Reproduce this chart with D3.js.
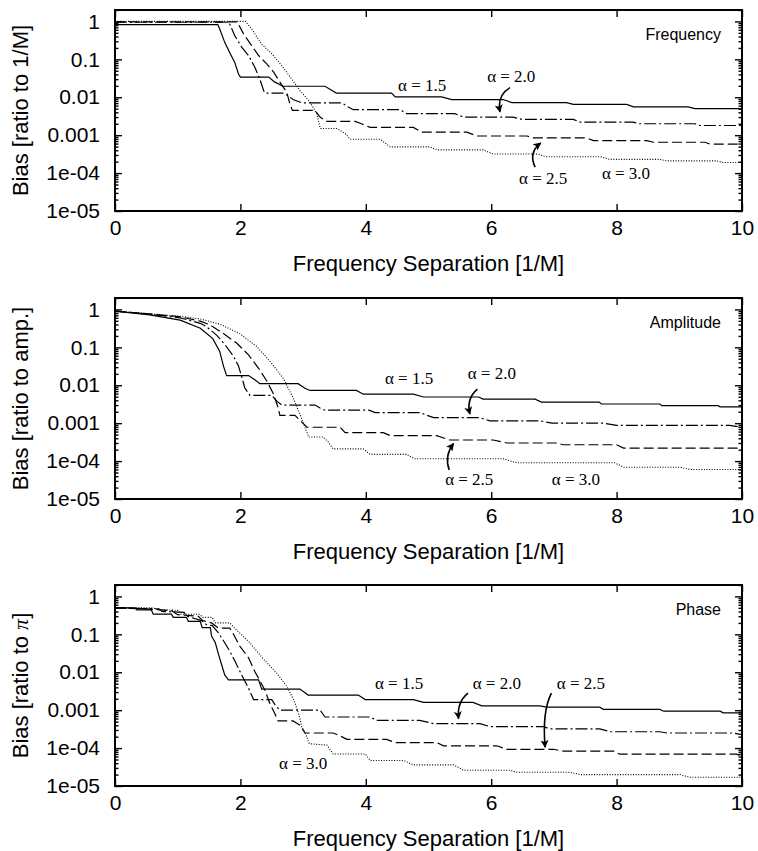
<!DOCTYPE html>
<html>
<head>
<meta charset="utf-8">
<script src="https://cdn.jsdelivr.net/npm/d3@7/dist/d3.min.js"></script>
<style>
  body { margin: 0; background: #fff; }
  svg { display: block; }
</style>
</head>
<body>
<script>

// ---- data: [frequency separation, bias] ----

let freq15 = [[0,0.82],[1.64,0.82],[1.67,0.63],[1.75,0.28],[1.83,0.15],[1.91,0.083],[1.97,0.041],[2.0,0.034],[2.45,0.034],[2.55,0.025],[2.68,0.0195],[3.35,0.0195],[3.46,0.0151],[3.53,0.0129],[4.41,0.0129],[4.47,0.0102],[5.21,0.0102],[5.37,0.0087],[6.19,0.0087],[6.33,0.0072],[7.2,0.0072],[7.31,0.0065],[8.16,0.0065],[8.27,0.0056],[9.14,0.0056],[9.25,0.005],[10,0.005]];
let freq20 = [[0,0.95],[1.8,0.95],[1.83,0.85],[1.91,0.42],[2.02,0.21],[2.13,0.126],[2.23,0.062],[2.31,0.03],[2.37,0.0151],[2.39,0.0129],[2.68,0.0129],[2.76,0.011],[2.84,0.0087],[2.98,0.0071],[3.62,0.0071],[3.72,0.0055],[3.8,0.0047],[4.55,0.0047],[4.65,0.0037],[5.42,0.0037],[5.56,0.003],[6.35,0.003],[6.49,0.0026],[7.31,0.0026],[7.42,0.0022],[8.26,0.0022],[8.37,0.002],[9.25,0.002],[9.33,0.0018],[10,0.0018]];
let freq25 = [[0,0.97],[1.95,0.97],[2.05,0.47],[2.18,0.23],[2.29,0.126],[2.42,0.076],[2.53,0.046],[2.63,0.025],[2.74,0.0135],[2.79,0.0066],[2.83,0.0045],[3.19,0.0045],[3.27,0.003],[3.38,0.0023],[3.83,0.0023],[3.93,0.002],[4.07,0.0016],[4.76,0.0016],[4.89,0.0012],[5.61,0.0012],[5.77,0.00095],[6.57,0.00095],[6.67,0.00085],[7.52,0.00085],[7.63,0.00072],[8.48,0.00072],[8.59,0.00065],[9.41,0.00065],[9.49,0.00058],[10,0.00058]];
let freq30 = [[0,1.0],[2.08,1.0],[2.18,0.63],[2.34,0.25],[2.5,0.14],[2.66,0.068],[2.82,0.03],[2.95,0.0151],[3.11,0.0074],[3.22,0.0036],[3.27,0.0016],[3.28,0.0015],[3.54,0.0015],[3.67,0.0011],[3.75,0.00078],[4.23,0.00078],[4.39,0.00049],[5.02,0.00049],[5.13,0.00041],[5.87,0.00041],[6.03,0.00032],[6.72,0.00032],[6.88,0.00027],[7.74,0.00027],[7.89,0.00023],[8.69,0.00023],[8.8,0.00021],[9.6,0.00021],[9.7,0.00019],[10,0.00019]];

let amp15 = [[0,0.9],[0.55,0.72],[1.04,0.52],[1.36,0.32],[1.56,0.17],[1.67,0.078],[1.73,0.032],[1.78,0.018],[2.13,0.018],[2.23,0.014],[2.31,0.011],[2.92,0.011],[3.03,0.0083],[3.11,0.0073],[3.85,0.0073],[3.96,0.0058],[4.76,0.0058],[4.92,0.0049],[5.8,0.0049],[5.87,0.0043],[6.7,0.0043],[6.8,0.0036],[7.72,0.0036],[7.76,0.0032],[8.69,0.0032],[8.72,0.0029],[9.62,0.0029],[9.65,0.0027],[10,0.0027]];
let amp20 = [[0,0.9],[0.55,0.75],[1.04,0.6],[1.36,0.43],[1.46,0.35],[1.62,0.21],[1.75,0.12],[1.89,0.058],[1.97,0.032],[2.02,0.017],[2.07,0.0085],[2.15,0.0054],[2.5,0.0054],[2.58,0.0038],[2.66,0.003],[3.19,0.003],[3.27,0.0025],[3.35,0.0022],[4.05,0.0022],[4.15,0.0019],[4.86,0.0019],[5.08,0.0014],[5.82,0.0014],[5.98,0.00115],[6.78,0.00115],[6.97,0.001],[7.79,0.001],[8.0,0.00087],[9.8,0.00087],[10,0.00078]];
let amp25 = [[0,0.9],[0.55,0.76],[1.04,0.64],[1.36,0.49],[1.52,0.39],[1.73,0.23],[1.94,0.13],[2.13,0.063],[2.29,0.028],[2.42,0.013],[2.53,0.0058],[2.6,0.0026],[2.63,0.0016],[2.87,0.0016],[2.95,0.0012],[3.06,0.00078],[3.59,0.00078],[3.67,0.00056],[4.28,0.00056],[4.39,0.00047],[5.13,0.00047],[5.34,0.00036],[6.03,0.00036],[6.25,0.0003],[7.04,0.0003],[7.15,0.00027],[8.0,0.00027],[8.11,0.00022],[9.92,0.00022],[10,0.00019]];
let amp30 = [[0,0.9],[0.55,0.77],[1.04,0.66],[1.36,0.56],[1.67,0.41],[1.99,0.23],[2.26,0.105],[2.47,0.043],[2.68,0.0155],[2.84,0.0047],[2.95,0.0017],[3.03,0.00078],[3.09,0.00043],[3.32,0.00043],[3.4,0.00032],[3.48,0.00021],[3.96,0.00021],[4.07,0.00015],[4.65,0.00015],[4.78,0.000115],[6.19,0.000115],[6.41,0.00009],[7.97,0.00009],[8.11,0.000069],[9.01,0.000069],[9.17,0.00006],[10,0.00006]];

let phase15 = [[0,0.5],[0.32,0.5],[0.35,0.44],[0.58,0.44],[0.61,0.34],[0.9,0.34],[0.93,0.28],[1.14,0.28],[1.17,0.22],[1.36,0.22],[1.39,0.15],[1.52,0.15],[1.54,0.09],[1.6,0.06],[1.65,0.03],[1.7,0.016],[1.75,0.0085],[1.81,0.0063],[2.29,0.0063],[2.34,0.0036],[2.95,0.0036],[3.08,0.0025],[3.88,0.0025],[3.99,0.0019],[4.76,0.0019],[4.92,0.0016],[5.71,0.0016],[5.85,0.0013],[6.78,0.0013],[6.88,0.0012],[7.73,0.0012],[7.79,0.00105],[8.69,0.00105],[8.75,0.00094],[9.65,0.00094],[9.7,0.00085],[10,0.00085]];
let phase20 = [[0,0.5],[0.7,0.47],[0.75,0.4],[1.1,0.38],[1.15,0.3],[1.38,0.23],[1.46,0.18],[1.55,0.17],[1.65,0.11],[1.75,0.06],[1.83,0.036],[1.91,0.02],[2.02,0.0085],[2.13,0.0038],[2.21,0.0019],[2.5,0.0019],[2.55,0.0014],[2.63,0.001],[3.27,0.001],[3.35,0.00066],[4.07,0.00066],[4.17,0.00054],[4.86,0.00054],[5.08,0.00044],[5.82,0.00044],[5.98,0.00037],[6.83,0.00037],[6.94,0.00032],[7.73,0.00032],[7.9,0.00027],[8.69,0.00027],[8.8,0.00025],[9.86,0.00025],[9.97,0.00023],[10,0.00023]];
let phase25 = [[0,0.5],[0.5,0.47],[0.9,0.42],[1.0,0.33],[1.33,0.3],[1.4,0.23],[1.54,0.2],[1.65,0.145],[1.83,0.145],[1.89,0.1],[1.99,0.049],[2.13,0.024],[2.23,0.0105],[2.39,0.0034],[2.47,0.0015],[2.55,0.0008],[2.6,0.00052],[2.84,0.00052],[2.95,0.0004],[3.03,0.00025],[3.48,0.00025],[3.59,0.00021],[3.7,0.00017],[4.33,0.00017],[4.47,0.00014],[5.13,0.00014],[5.24,0.000115],[6.09,0.000115],[6.25,0.000093],[6.99,0.000093],[7.15,0.000083],[7.95,0.000083],[8.05,0.000069],[9.92,0.000069],[10,0.000059]];
let phase30 = [[0,0.5],[0.6,0.5],[0.7,0.45],[1.0,0.43],[1.05,0.34],[1.35,0.34],[1.4,0.28],[1.55,0.28],[1.6,0.2],[1.83,0.2],[1.9,0.15],[2.15,0.06],[2.37,0.022],[2.58,0.0095],[2.74,0.0042],[2.85,0.0019],[2.93,0.0008],[2.98,0.00036],[3.03,0.00026],[3.1,0.00013],[3.38,0.00012],[3.48,0.00007],[3.99,0.00007],[4.07,0.000047],[4.6,0.000047],[4.76,0.000036],[5.4,0.000036],[5.56,0.000026],[6.3,0.000026],[6.41,0.000023],[7.26,0.000023],[7.42,0.00002],[9.01,0.00002],[9.17,0.000017],[10,0.000017]];

let xTicks = [0, 2, 4, 6, 8, 10];
let yTicks = [1e-5, 1e-4, 1e-3, 0.01, 0.1, 1];
let yTickLabels = ["1e-05", "1e-04", "0.001", "0.01", "0.1", "1"];
let alphaNames = ["\u03b1 = 1.5", "\u03b1 = 2.0", "\u03b1 = 2.5", "\u03b1 = 3.0"];
let panelNames = ["Frequency", "Amplitude", "Phase"];

// where the alpha labels sit, in data units [x, bias]
let freqLabels = [[4.9,0.0144],[6.32,0.025],[6.83,5.1e-5],[8.15,6.9e-5]];
let ampLabels = [[4.69,0.011],[6.01,0.0149],[5.65,2.3e-5],[7.35,2.3e-5]];
let phaseLabels = [[4.53,0.0036],[6.09,0.0036],[7.43,0.0036],[3.0,2.8e-5]];

// curved arrows: start, control, end (data units)
let freqArrows = [[[6.3,0.018],[6.09,0.0112],[6.14,0.0041]], [[6.7,0.000144],[6.59,0.00035],[6.79,0.00062]]];
let ampArrows = [[[5.78,0.0079],[5.6,0.0044],[5.66,0.00175]], [[5.33,5.8e-5],[5.25,0.00014],[5.4,0.00029]]];
let phaseArrows = [[[5.63,0.0028],[5.45,0.0016],[5.48,0.0006]], [[6.96,0.0028],[6.81,0.0009],[6.86,0.000105]]];

// ---------------------------------------------------------------

let svgWidth = 758;
let svgHeight = 851;
let plotLeft = 115;
let plotRight = 742;
let plotHeight = 201;
let panelTops = [10, 298, 585];
let sansFont = "'Liberation Sans', Arial, Helvetica, sans-serif";
let serifFont = "'Liberation Serif', 'Times New Roman', serif";

let dashStyles = [null, "12,3,2,3", "10,4", "1,1.6"];

let svg = d3.select("body")
  .append("svg")
    .attr("width", svgWidth)
    .attr("height", svgHeight)
    .style("background-color", "white");

svg.append("defs").append("marker")
    .attr("id", "arrowHead")
    .attr("viewBox", "0 0 10 10")
    .attr("refX", 9)
    .attr("refY", 5)
    .attr("markerWidth", 9)
    .attr("markerHeight", 8)
    .attr("markerUnits", "userSpaceOnUse")
    .attr("orient", "auto")
  .append("path")
    .attr("d", "M0,0 L10,5 L0,10 L2.5,5 z")
    .attr("fill", "black");

let xScale = d3.scaleLinear().domain([0, 10]).range([plotLeft, plotRight]);

let panels = [
  { series: [freq15, freq20, freq25, freq30], title: "Bias [ratio to 1/M]", labels: freqLabels, arrows: freqArrows },
  { series: [amp15, amp20, amp25, amp30], title: "Bias [ratio to amp.]", labels: ampLabels, arrows: ampArrows },
  { series: [phase15, phase20, phase25, phase30], title: "Bias [ratio to ", labels: phaseLabels, arrows: phaseArrows, pi: true }
];

panels.forEach(function(p, i){
  drawPanel(p, panelTops[i], panelNames[i]);
});

function drawPanel(p, top, name){
  let bottom = top + plotHeight;
  let yScale = d3.scaleLog().domain([1e-5, 2]).range([bottom, top]);
  let g = svg.append("g");

  // curves
  let line = d3.line()
    .x(function(d){ return xScale(d[0]); })
    .y(function(d){ return yScale(d[1]); });

  g.selectAll(".curve").data(p.series)
    .enter().append("path")
      .attr("class", "curve")
      .attr("d", line)
      .attr("fill", "none")
      .attr("stroke", "black")
      .attr("stroke-width", function(d, i){ return i == 3 ? 1.1 : 1.2; })
      .attr("stroke-dasharray", function(d, i){ return dashStyles[i]; });

  // minor ticks (2..9 in each decade)
  let minor = yScale.ticks().filter(function(v){
    let l = Math.log10(v);
    return Math.abs(l - Math.round(l)) > 1e-6;
  });

  let leftMajor = d3.axisLeft(yScale).tickValues(yTicks).tickSize(-7).tickSizeOuter(0).tickPadding(15)
    .tickFormat(function(d, i){ return yTickLabels[i]; });
  let leftMinor = d3.axisLeft(yScale).tickValues(minor).tickSize(-3.5).tickSizeOuter(0).tickFormat("");
  let rightMajor = d3.axisRight(yScale).tickValues(yTicks).tickSize(-7).tickSizeOuter(0).tickFormat("");
  let rightMinor = d3.axisRight(yScale).tickValues(minor).tickSize(-3.5).tickSizeOuter(0).tickFormat("");
  let bottomAxis = d3.axisBottom(xScale).tickValues(xTicks).tickSize(-7).tickSizeOuter(0).tickPadding(9)
    .tickFormat(d3.format("d"));
  let topAxis = d3.axisTop(xScale).tickValues(xTicks).tickSize(-7).tickSizeOuter(0).tickFormat("");

  let axes = [
    [leftMajor, "translate(" + plotLeft + ",0)"],
    [leftMinor, "translate(" + plotLeft + ",0)"],
    [rightMajor, "translate(" + plotRight + ",0)"],
    [rightMinor, "translate(" + plotRight + ",0)"],
    [bottomAxis, "translate(0," + bottom + ")"],
    [topAxis, "translate(0," + top + ")"]
  ];
  axes.forEach(function(a){
    let ag = g.append("g").attr("transform", a[1]).call(a[0]);
    ag.select(".domain").remove();
    ag.selectAll("line").attr("stroke", "black").attr("stroke-width", 1.4);
    ag.selectAll("text")
      .attr("fill", "black")
      .style("font-family", sansFont)
      .style("font-size", "21px");
  });

  // frame
  g.append("rect")
    .attr("x", plotLeft)
    .attr("y", top)
    .attr("width", plotRight - plotLeft)
    .attr("height", plotHeight)
    .attr("fill", "none")
    .attr("stroke", "black")
    .attr("stroke-width", 2);

  // axis titles
  g.append("text")
    .attr("x", (plotLeft + plotRight) / 2)
    .attr("y", bottom + 60)
    .attr("text-anchor", "middle")
    .style("font-family", sansFont)
    .style("font-size", "22px")
    .text("Frequency Separation [1/M]");

  let yTitle = g.append("text")
    .attr("transform", "translate(28," + (top + plotHeight / 2) + ") rotate(-90)")
    .attr("text-anchor", "middle")
    .style("font-family", sansFont)
    .style("font-size", "22px")
    .text(p.title);
  if(p.pi){
    yTitle.append("tspan").style("font-family", serifFont).style("font-style", "italic").text("\u03c0");
    yTitle.append("tspan").text("]");
  }

  // panel name, top right
  g.append("text")
    .attr("x", plotRight - 21)
    .attr("y", top + 30)
    .attr("text-anchor", "end")
    .style("font-family", sansFont)
    .style("font-size", "16px")
    .text(name);

  // alpha labels
  g.selectAll(".alphaLabel").data(p.labels)
    .enter().append("text")
      .attr("class", "alphaLabel")
      .attr("x", function(d){ return xScale(d[0]); })
      .attr("y", function(d){ return yScale(d[1]); })
      .attr("text-anchor", "middle")
      .style("font-family", serifFont)
      .style("font-size", "17px")
      .text(function(d, i){ return alphaNames[i]; });

  // curved arrows
  g.selectAll(".arrow").data(p.arrows)
    .enter().append("path")
      .attr("class", "arrow")
      .attr("d", function(d){
        let pts = d.map(function(q){ return [xScale(q[0]), yScale(q[1])]; });
        return "M" + pts[0] + "Q" + pts[1] + " " + pts[2];
      })
      .attr("fill", "none")
      .attr("stroke", "black")
      .attr("stroke-width", 1.6)
      .attr("marker-end", "url(#arrowHead)");
}

</script>
</body>
</html>
